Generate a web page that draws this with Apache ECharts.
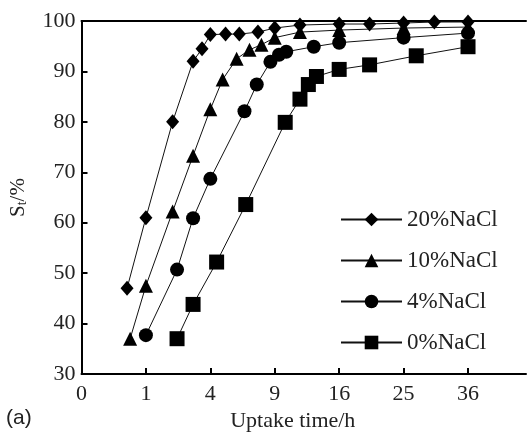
<!DOCTYPE html>
<html>
<head>
<meta charset="utf-8">
<script src="https://cdn.jsdelivr.net/npm/echarts@6/dist/echarts.min.js"></script>
<style>
  html, body { margin: 0; padding: 0; background: #fff; }
  #chart { width: 528px; height: 437px; }
</style>
</head>
<body>
<div id="chart"></div>
<script>
// uptake time (h) and S_t (%)
const t20 = [0.5, 1, 2, 3, 3.5, 4, 5, 6, 7.5, 9, 11.5, 16, 20, 25, 30, 36];
const s20 = [47, 61, 80, 92, 94.5, 97.3, 97.4, 97.4, 97.8, 98.6, 99.2, 99.4, 99.4, 99.6, 99.8, 99.8];

const t10 = [0.57, 1, 2, 3, 4, 4.8, 5.8, 6.8, 7.8, 9, 11.5, 16, 25, 36];
const s10 = [37, 47.5, 62.2, 73.3, 82.5, 88.4, 92.5, 94.3, 95.3, 96.7, 97.8, 98.2, 98.6, 98.8];

const t4 = [1, 2.2, 3, 4, 6.4, 7.4, 8.6, 9.4, 10.1, 13, 16, 25, 36];
const s4 = [37.7, 50.7, 60.9, 68.7, 82.1, 87.4, 91.9, 93.3, 93.9, 94.9, 95.7, 96.7, 97.6];

const t0 = [2.2, 3, 4.4, 6.5, 10, 11.5, 12.4, 13.3, 16, 20, 27, 36];
const s0 = [37, 43.8, 52.2, 63.6, 79.9, 84.5, 87.4, 89, 90.4, 91.3, 93.1, 94.9];

const names = ['20%NaCl', '10%NaCl', '4%NaCl', '0%NaCl'];

// x axis is drawn against sqrt(time)
function pts(t, s) {
  return t.map((v, i) => [Math.sqrt(v), s[i]]);
}

const serif = 'Liberation Serif';
const txt = '#222';

function line(name, t, s, symbol, size) {
  return {
    name: name,
    type: 'line',
    data: pts(t, s),
    symbol: symbol,
    symbolSize: size,
    itemStyle: { color: '#000' },
    lineStyle: { color: '#111', width: 1 },
    z: 3
  };
}

let myChart = echarts.init(document.getElementById('chart'), null, { renderer: 'canvas' });

let option = {
  animation: false,
  grid: { left: 77, top: 21, width: 449, height: 356 },
  legend: {
    data: names,
    orient: 'vertical',
    left: 335,
    top: 203,
    itemWidth: 61,
    itemHeight: 17,
    itemGap: 18,
    textStyle: { fontFamily: serif, fontSize: 23, color: txt }
  },
  xAxis: [
    {
      type: 'value',
      min: 0,
      max: 6.9,
      interval: 1,
      name: 'Uptake time/h',
      nameLocation: 'middle',
      nameGap: 36,
      nameTextStyle: { fontFamily: serif, fontSize: 22, color: txt, padding: [0, 22, 0, 0] },
      axisLine: { lineStyle: { color: '#000', width: 2 } },
      axisTick: { inside: true, length: 6, lineStyle: { color: '#000', width: 2 } },
      axisLabel: {
        fontFamily: serif, fontSize: 22, color: txt, margin: 9,
        showMaxLabel: false,
        formatter: v => (Number.isInteger(v) ? String(v * v) : '')
      },
      splitLine: { show: false }
    },
    {
      type: 'value',
      position: 'top',
      min: 0,
      max: 6.9,
      axisLine: { show: true, lineStyle: { color: '#000', width: 2 } },
      axisTick: { show: false },
      axisLabel: { show: false },
      splitLine: { show: false }
    }
  ],
  yAxis: {
    type: 'value',
    min: 30,
    max: 100,
    interval: 10,
    name: 'S{sub|t}/%',
    nameLocation: 'middle',
    nameGap: 52,
    nameTextStyle: {
      fontFamily: serif, fontSize: 21, color: txt,
      rich: { sub: { fontFamily: serif, fontSize: 14, color: txt, verticalAlign: 'bottom', padding: [8, 0, 0, 0] } }
    },
    axisLine: { show: true, lineStyle: { color: '#000', width: 2 } },
    axisTick: { show: true, inside: true, length: 6, lineStyle: { color: '#000', width: 2 } },
    axisLabel: { fontFamily: serif, fontSize: 22, color: txt, margin: 6 },
    splitLine: { show: false }
  },
  graphic: [
    {
      type: 'text',
      left: 6,
      top: 408,
      style: { text: '(a)', font: '21px "Liberation Sans"', fill: txt }
    }
  ],
  series: [
    line(names[0], t20, s20, 'diamond', [13, 15]),
    line(names[1], t10, s10, 'triangle', 14),
    line(names[2], t4, s4, 'circle', 14),
    line(names[3], t0, s0, 'rect', 15)
  ]
};

myChart.setOption(option);
</script>
</body>
</html>
